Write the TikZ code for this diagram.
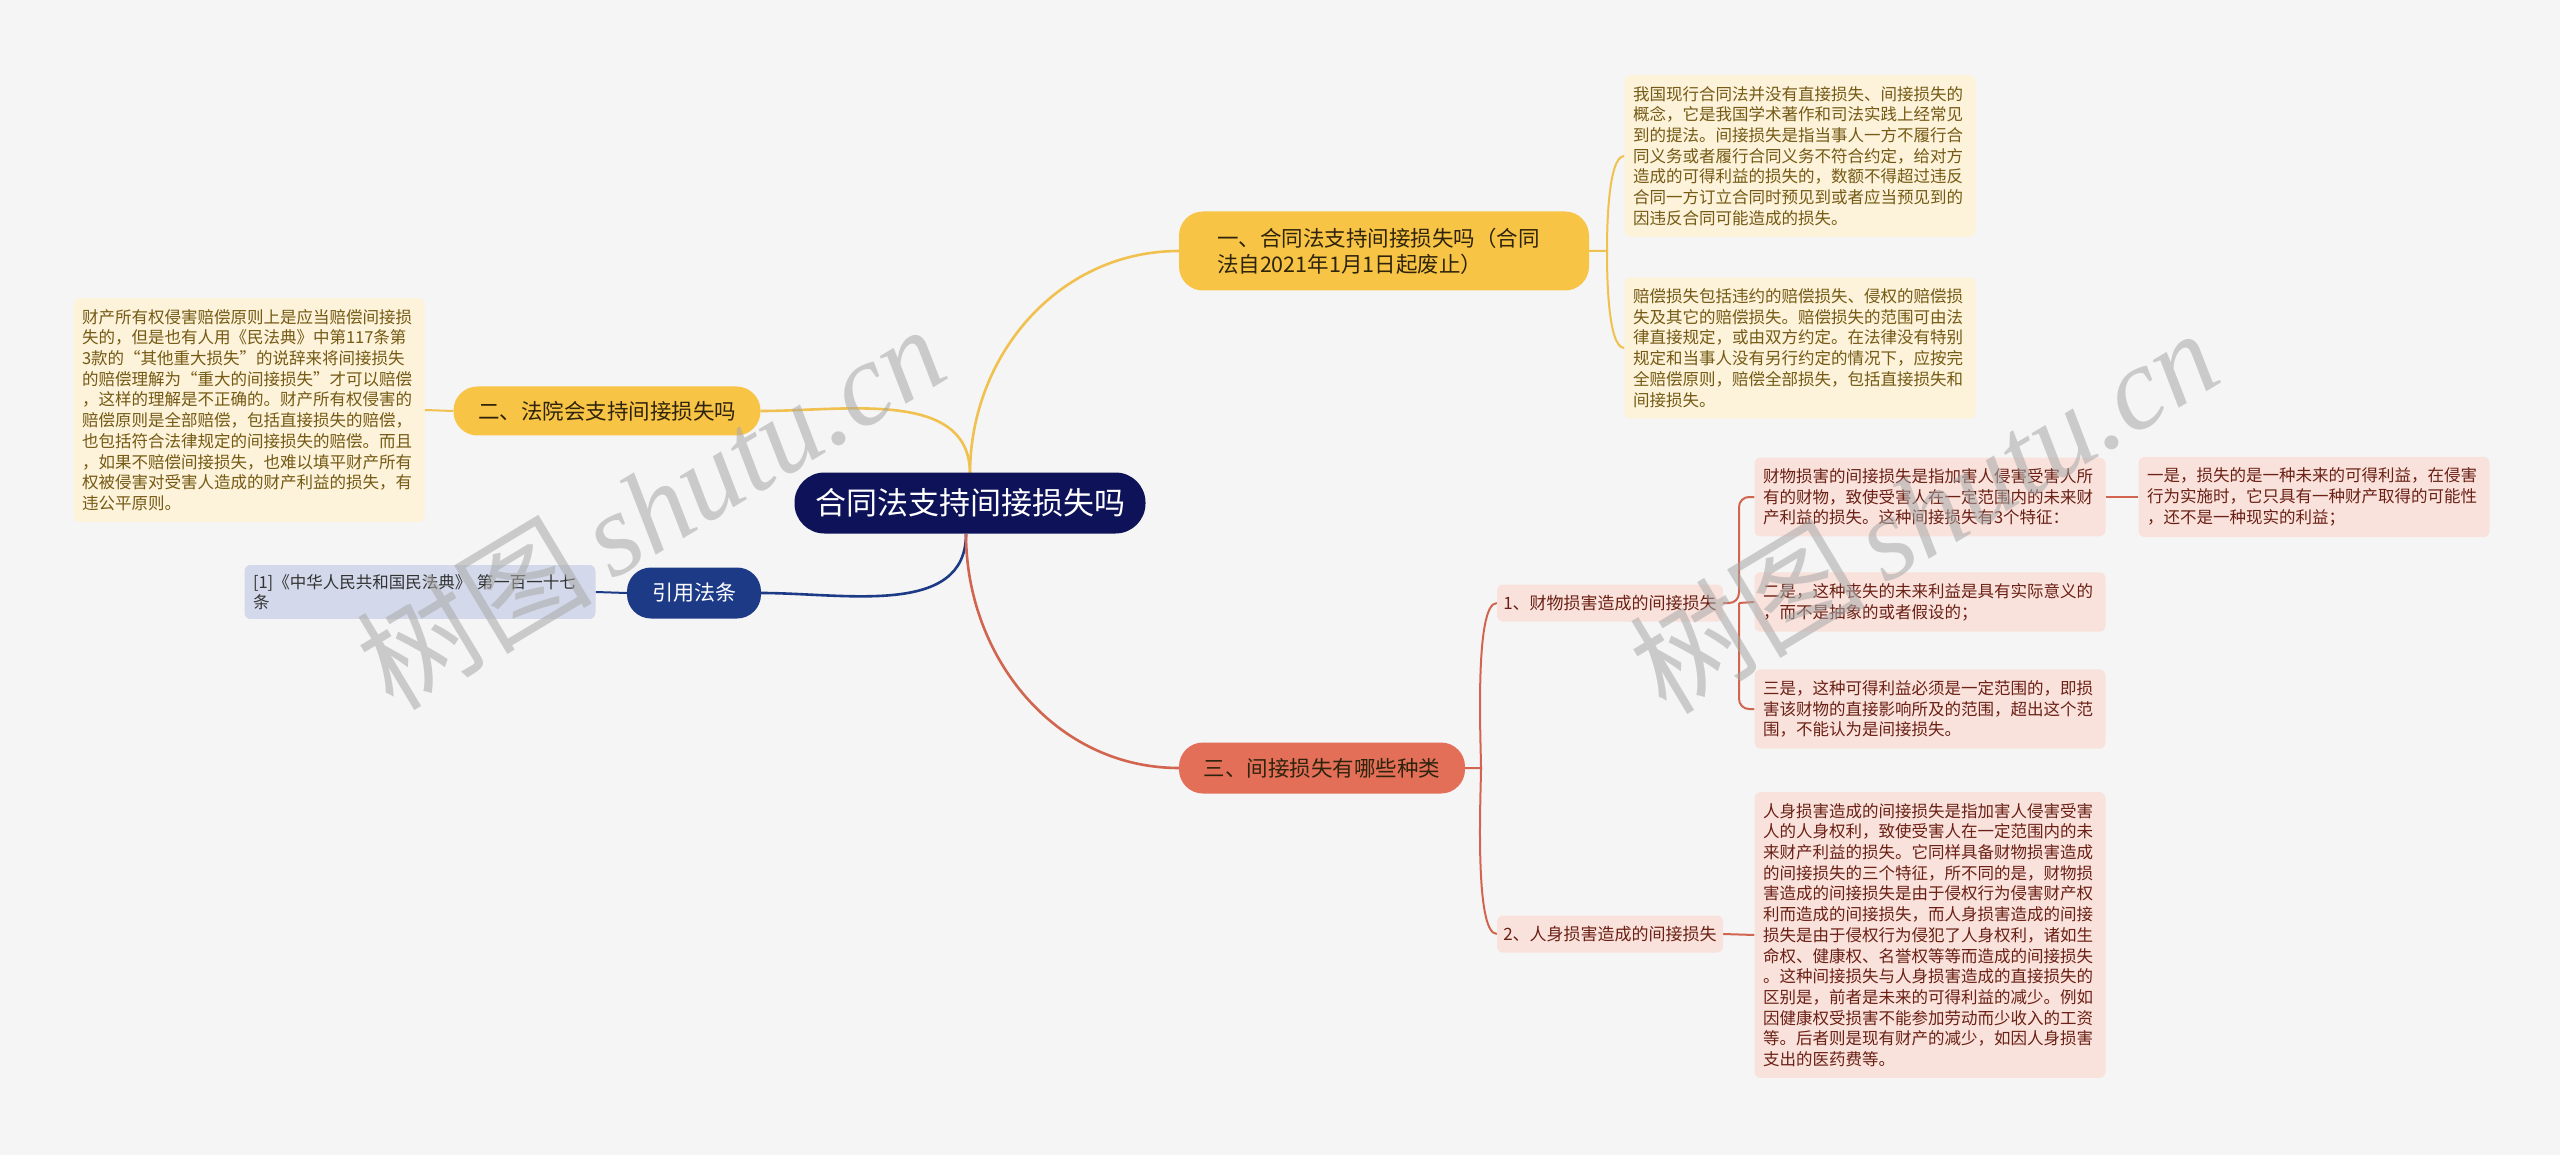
\documentclass[tikz,border=0pt]{standalone}
\usepackage{fontspec}
\setmainfont{Noto Sans CJK SC}
\newfontfamily\wmfont{Liberation Serif}
\usetikzlibrary{calc,backgrounds}
\definecolor{bg}{HTML}{F5F5F5}
\definecolor{navyroot}{HTML}{0D1259}
\definecolor{navycite}{HTML}{1C3A86}
\definecolor{citebox}{HTML}{D3D9EA}
\definecolor{yellowfill}{HTML}{F8C446}
\definecolor{yellowline}{HTML}{F0C14E}
\definecolor{creambox}{HTML}{FDF2DA}
\definecolor{creamtext}{HTML}{745A14}
\definecolor{redfill}{HTML}{E36F59}
\definecolor{redline}{HTML}{D2654F}
\definecolor{pinkbox}{HTML}{FAE2DC}
\definecolor{pinktext}{HTML}{6A2014}
\definecolor{darktext}{HTML}{2E230B}
\definecolor{wmgray}{HTML}{A8A8A8}
\tikzset{
  smallfont/.style={font=\fontsize{16.5}{20.7}\selectfont},
  pill/.style={rounded corners=24pt, inner sep=0pt},
  rootbox/.style={pill, fill=navyroot, text=white, minimum width=351pt, minimum height=61pt, rounded corners=30pt, font=\fontsize{31}{36}\selectfont},
  ybranch/.style={pill, fill=yellowfill, text=darktext, font=\fontsize{21.5}{26}\selectfont},
  rbranch/.style={pill, fill=redfill, text=darktext, font=\fontsize{21.5}{26}\selectfont, minimum width=286pt, minimum height=51pt},
  citenode/.style={pill, fill=navycite, text=white, font=\fontsize{21}{25}\selectfont, minimum width=134pt, minimum height=51pt},
  leafbox/.style={smallfont, rounded corners=6pt, align=left, text width=334pt, inner xsep=8.5pt, inner ysep=11pt},
  cream/.style={leafbox, fill=creambox, text=creamtext},
  pink/.style={leafbox, fill=pinkbox, text=pinktext},
  citebox/.style={leafbox, fill=citebox, text=black!80, inner ysep=9pt},
  subbox/.style={fill=pinkbox, text=pinktext, rounded corners=6pt, font=\fontsize{17}{20}\selectfont, minimum width=226pt, minimum height=37pt, inner sep=0pt},
  yl/.style={draw=yellowline, line width=2.6pt},
  nl/.style={draw=navycite, line width=2.6pt},
  rl/.style={draw=redline, line width=2.6pt},
  rls/.style={draw=redline, line width=2pt},
  yls/.style={draw=yellowline, line width=2pt},
  wm/.style={text=wmgray, opacity=0.55, rotate=31, font=\fontsize{118}{118}\selectfont, inner sep=0pt}
}
\begin{document}
\begin{tikzpicture}[x=1pt,y=-1pt]
\useasboundingbox (0,0) rectangle (2560,1155);

% root
\node[rootbox] (root) at (970,503) {合同法支持间接损失吗};

% branch 1
\node[ybranch, align=left, text width=334pt, inner xsep=38pt, minimum height=79pt] (b1) at (1384,251) {一、合同法支持间接损失吗（合同\\法自2021年1月1日起废止）};
\node[cream] (t1) at (1800,156) {我国现行合同法并没有直接损失、间接损失的\\概念，它是我国学术著作和司法实践上经常见\\到的提法。间接损失是指当事人一方不履行合\\同义务或者履行合同义务不符合约定，给对方\\造成的可得利益的损失的，数额不得超过违反\\合同一方订立合同时预见到或者应当预见到的\\因违反合同可能造成的损失。};
\node[cream] (t2) at (1800,348) {赔偿损失包括违约的赔偿损失、侵权的赔偿损\\失及其它的赔偿损失。赔偿损失的范围可由法\\律直接规定，或由双方约定。在法律没有特别\\规定和当事人没有另行约定的情况下，应按完\\全赔偿原则，赔偿全部损失，包括直接损失和\\间接损失。};

% branch 2
\node[ybranch, minimum width=307pt, minimum height=49pt] (b2) at (607,411) {二、法院会支持间接损失吗};
\node[cream] (lt) at (249,410) {财产所有权侵害赔偿原则上是应当赔偿间接损\\失的，但是也有人用《民法典》中第117条第\\3款的“其他重大损失”的说辞来将间接损失\\的赔偿理解为“重大的间接损失”才可以赔偿\\，这样的理解是不正确的。财产所有权侵害的\\赔偿原则是全部赔偿，包括直接损失的赔偿，\\也包括符合法律规定的间接损失的赔偿。而且\\，如果不赔偿间接损失，也难以填平财产所有\\权被侵害对受害人造成的财产利益的损失，有\\违公平原则。};

% citation
\node[citenode] (yin) at (694,593) {引用法条};
\node[citebox] (cite) at (420,592) {[1]《中华人民共和国民法典》 第一百一十七\\条};

% branch 3
\node[rbranch] (b3) at (1322,768) {三、间接损失有哪些种类};
\node[subbox] (s1) at (1610,603) {1、财物损害造成的间接损失};
\node[subbox] (s2) at (1610,934) {2、人身损害造成的间接损失};
\node[pink] (pa) at (1930,497) {财物损害的间接损失是指加害人侵害受害人所\\有的财物，致使受害人在一定范围内的未来财\\产利益的损失。这种间接损失有3个特征：};
\node[pink] (pb) at (1930,602) {二是，这种丧失的未来利益是具有实际意义的\\，而不是抽象的或者假设的；};
\node[pink] (pc) at (1930,709) {三是，这种可得利益必须是一定范围的，即损\\害该财物的直接影响所及的范围，超出这个范\\围，不能认为是间接损失。};
\node[pink] (pd) at (2314,497) {一是，损失的是一种未来的可得利益，在侵害\\行为实施时，它只具有一种财产取得的可能性\\，还不是一种现实的利益；};
\node[pink] (pe) at (1930,935) {人身损害造成的间接损失是指加害人侵害受害\\人的人身权利，致使受害人在一定范围内的未\\来财产利益的损失。它同样具备财物损害造成\\的间接损失的三个特征，所不同的是，财物损\\害造成的间接损失是由于侵权行为侵害财产权\\利而造成的间接损失，而人身损害造成的间接\\损失是由于侵权行为侵犯了人身权利，诸如生\\命权、健康权、名誉权等等而造成的间接损失\\。这种间接损失与人身损害造成的直接损失的\\区别是，前者是未来的可得利益的减少。例如\\因健康权受损害不能参加劳动而少收入的工资\\等。后者则是现有财产的减少，如因人身损害\\支出的医药费等。};

% junction coordinates
\coordinate (rtop) at (970,474);
\coordinate (rbot) at (966,534);
\coordinate (j1) at (1607,251);
\coordinate (j3) at (1481,768);
\coordinate (j4) at (1739,603);

\begin{scope}[on background layer]
\fill[bg] (0,0) rectangle (2560,1155);
% main connectors
\draw[yl] (rtop) to[out=90,in=180] (b1.west);
\draw[yl] (rtop) to[out=90,in=0] (b2.east);
\draw[nl] (rbot) to[out=-90,in=0] (yin.east);
\draw[rl] (rbot) to[out=-90,in=180] (b3.west);
% branch 1 children
\draw[yls] (b1.east) -- (j1) to[out=90,in=180,looseness=0.45] (t1.west);
\draw[yls] (j1) to[out=-90,in=180,looseness=0.45] (t2.west);
% branch 2 child
\draw[yls] (b2.west) -- (lt.east);
% citation child
\draw[nl, line width=2pt] (yin.west) -- (cite.east);
% branch 3 children
\draw[rls] (b3.east) -- (j3) to[out=90,in=180,looseness=0.35] (s1.west);
\draw[rls] (j3) to[out=-90,in=180,looseness=0.35] (s2.west);
\draw[rls, rounded corners=10pt] (s1.east) -- (j4) |- (pa.west);
\draw[rls] (j4) -- (pb.west);
\draw[rls, rounded corners=10pt] (j4) |- (pc.west);
\draw[rls] (pa.east) -- (pd.west);
\draw[rls] (s2.east) -- (pe.west);
\end{scope}

% watermarks
\node[wm] (wm1) at (650,506) {树图\,{\wmfont\itshape shutu.cn}};
\node[wm] (wm2) at (1923,510) {树图\,{\wmfont\itshape shutu.cn}};
\end{tikzpicture}
\end{document}
